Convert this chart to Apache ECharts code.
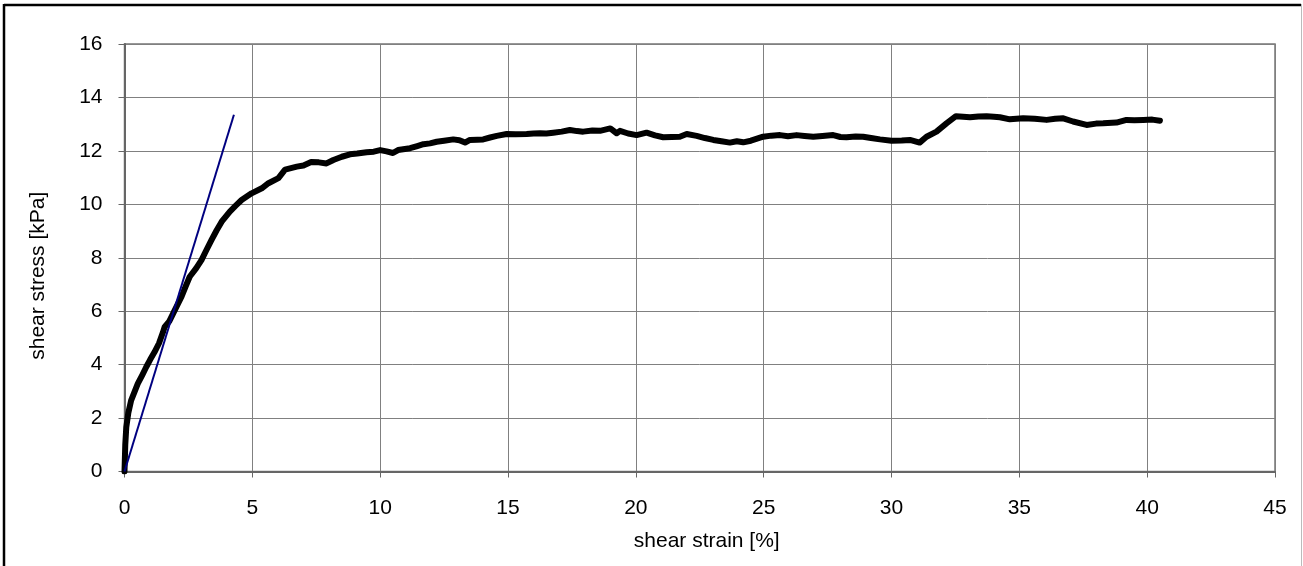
<!DOCTYPE html>
<html>
<head>
<meta charset="utf-8">
<script src="https://cdn.jsdelivr.net/npm/echarts@6/dist/echarts.min.js"></script>
<style>
html,body{margin:0;padding:0;background:#fff;}
#chart{width:1303px;height:566px;}
</style>
</head>
<body>
<div id="chart"></div>
<script>
const strain = [
  0, 0.03, 0.07, 0.15, 0.26, 0.4, 0.52, 0.7, 0.85, 1.0,
  1.18, 1.35, 1.5, 1.57, 1.75, 1.9, 2.05, 2.23, 2.4, 2.55,
  2.8, 3.01, 3.2, 3.4, 3.6, 3.8, 4.12, 4.35, 4.58, 4.97,
  5.37, 5.63, 6.02, 6.28, 6.35, 6.74, 7.0, 7.3, 7.6, 7.9,
  8.17, 8.5, 8.82, 9.1, 9.47, 9.75, 10.0, 10.25, 10.5, 10.7,
  10.9, 11.17, 11.45, 11.69, 11.95, 12.21, 12.5, 12.86, 13.1, 13.32,
  13.51, 13.8, 14.03, 14.3, 14.56, 14.95, 15.3, 15.73, 16.0, 16.25,
  16.5, 16.77, 17.1, 17.42, 17.7, 17.94, 18.3, 18.6, 19.0, 19.25,
  19.38, 19.7, 20.03, 20.42, 20.75, 21.07, 21.4, 21.72, 21.99, 22.38,
  22.7, 23.03, 23.35, 23.68, 23.95, 24.2, 24.5, 24.98, 25.3, 25.64,
  25.95, 26.29, 26.6, 26.94, 27.3, 27.72, 28.0, 28.24, 28.6, 28.89,
  29.2, 29.55, 30.0, 30.4, 30.72, 31.1, 31.37, 31.76, 32.15, 32.52,
  32.8, 33.07, 33.4, 33.72, 34.0, 34.24, 34.63, 35.15, 35.6, 36.07,
  36.4, 36.72, 37.1, 37.63, 38.0, 38.28, 38.8, 39.19, 39.5, 39.85,
  40.2, 40.5
];
const stress = [
  0, 1.0, 1.66, 2.2, 2.66, 3.0, 3.29, 3.62, 3.91, 4.18,
  4.48, 4.8, 5.2, 5.41, 5.62, 5.91, 6.2, 6.54, 6.95, 7.29,
  7.6, 7.91, 8.28, 8.66, 9.02, 9.35, 9.73, 9.95, 10.16, 10.41,
  10.6, 10.79, 10.98, 11.3, 11.35, 11.41, 11.45, 11.58, 11.57, 11.53,
  11.66, 11.78, 11.87, 11.9, 11.95, 11.97, 12.03, 11.98, 11.92, 12.03,
  12.06, 12.1, 12.18, 12.25, 12.28, 12.34, 12.38, 12.43, 12.4, 12.31,
  12.41, 12.42, 12.43, 12.5, 12.56, 12.63, 12.62, 12.63, 12.65, 12.66,
  12.65, 12.68, 12.72, 12.78, 12.74, 12.72, 12.76, 12.75, 12.84, 12.66,
  12.75, 12.65, 12.59, 12.68, 12.58, 12.51, 12.52, 12.53, 12.63, 12.56,
  12.48, 12.41, 12.36, 12.31, 12.36, 12.32, 12.38, 12.53, 12.57, 12.59,
  12.55, 12.59, 12.56, 12.53, 12.56, 12.59, 12.52, 12.51, 12.54, 12.53,
  12.48, 12.43, 12.38, 12.39, 12.41, 12.31, 12.53, 12.72, 13.03, 13.3,
  13.28, 13.26, 13.29, 13.3, 13.28, 13.26, 13.18, 13.22, 13.2, 13.16,
  13.2, 13.22, 13.1, 12.97, 13.02, 13.03, 13.06, 13.16, 13.15, 13.16,
  13.17, 13.13
];
const tangentX = [0, 4.28];
const tangentY = [0, 13.35];

const xTitle = 'shear strain [%]';
const yTitle = 'shear stress [kPa]';

const curveData = strain.map((x, i) => [x, stress[i]]);
const tangentData = tangentX.map((x, i) => [x, tangentY[i]]);

const FONT = '"Liberation Sans", Arial, sans-serif';
const FS = 21;
const chart = echarts.init(document.getElementById('chart'), null, {renderer: 'canvas'});
chart.setOption({
  animation: false,
  backgroundColor: '#ffffff',
  graphic: [
    {type: 'line', shape: {x1: 4, y1: 5, x2: 1301, y2: 5}, style: {stroke: '#000', lineWidth: 2.5}},
    {type: 'line', shape: {x1: 4, y1: 4, x2: 4, y2: 566}, style: {stroke: '#000', lineWidth: 2.5}},
    {type: 'line', shape: {x1: 1301.5, y1: 4, x2: 1301.5, y2: 566}, style: {stroke: '#bbb', lineWidth: 1}}
  ],
  grid: {
    left: 124.5, right: 28, top: 44, bottom: 94.5,
    show: true, borderColor: '#777', borderWidth: 1.5, backgroundColor: 'transparent'
  },
  xAxis: {
    type: 'value', min: 0, max: 45, interval: 5,
    name: xTitle, nameLocation: 'middle', nameGap: 59,
    nameTextStyle: {fontFamily: FONT, fontSize: FS, color: '#000', padding: [0, 0, 0, 14]},
    axisLine: {show: true, onZero: false, lineStyle: {color: '#666', width: 2}},
    axisTick: {show: true, inside: false, length: 6, lineStyle: {color: '#666', width: 1}},
    axisLabel: {margin: 26, fontFamily: FONT, fontSize: FS, color: '#000'},
    splitLine: {show: true, lineStyle: {color: '#808080', width: 1}}
  },
  yAxis: {
    type: 'value', min: 0, max: 16, interval: 2,
    name: yTitle, nameLocation: 'middle', nameGap: 76,
    nameTextStyle: {fontFamily: FONT, fontSize: FS, color: '#000', padding: [0, 36, 0, 0]},
    axisLine: {show: true, onZero: false, lineStyle: {color: '#666', width: 2}},
    axisTick: {show: true, inside: false, length: 6, lineStyle: {color: '#666', width: 1}},
    axisLabel: {margin: 22, fontFamily: FONT, fontSize: FS, color: '#000'},
    splitLine: {show: true, lineStyle: {color: '#808080', width: 1}}
  },
  series: [
    {
      type: 'line', data: curveData, showSymbol: false, symbol: 'none',
      lineStyle: {color: '#000', width: 6, join: 'round', cap: 'round'},
      z: 3
    },
    {
      type: 'line', data: tangentData, showSymbol: false, symbol: 'none',
      lineStyle: {color: '#000080', width: 2},
      z: 4
    }
  ]
});
</script>
</body>
</html>
